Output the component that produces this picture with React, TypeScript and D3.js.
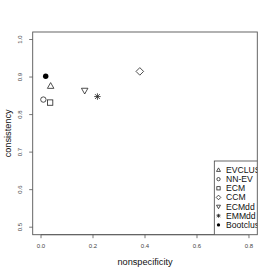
import React from "react";
import * as d3 from "d3";

const methods = ["EVCLUS", "NN-EV", "ECM", "CCM", "ECMdd", "EMMdd", "Bootclus"];
const shapes = ["triUp", "circle", "square", "diamond", "triDown", "asterisk", "dot"];
const nonspecificity = [0.037, 0.009, 0.035, 0.38, 0.168, 0.217, 0.018];
const consistency = [0.876, 0.84, 0.832, 0.915, 0.864, 0.848, 0.902];
const xTicks = [0.0, 0.2, 0.4, 0.6, 0.8];
const yTicks = [0.5, 0.6, 0.7, 0.8, 0.9, 1.0];

const W = 274, H = 274;
const L = 32.7, R = 257.3, T = 32, B = 234.7;
const FONT = "'Liberation Sans', Arial, Helvetica, sans-serif";

function Sym({ type, x, y, s, color = "#222" }: { type: string; x: number; y: number; s: number; color?: string }) {
  const sw = 0.8;
  switch (type) {
    case "circle":
      return <circle cx={x} cy={y} r={s * 0.75} fill="none" stroke={color} strokeWidth={sw} />;
    case "dot":
      return <circle cx={x} cy={y} r={s * 0.75} fill="#000" />;
    case "square":
      return <rect x={x - s * 0.75} y={y - s * 0.75} width={s * 1.5} height={s * 1.5} fill="none" stroke={color} strokeWidth={sw} />;
    case "triUp": {
      const h = s * 1.6, w = s * 1.8;
      return <path d={`M${x},${y - h * 0.6}L${x + w / 2},${y + h * 0.4}L${x - w / 2},${y + h * 0.4}Z`} fill="none" stroke={color} strokeWidth={sw} />;
    }
    case "triDown": {
      const h = s * 1.6, w = s * 1.8;
      return <path d={`M${x},${y + h * 0.6}L${x + w / 2},${y - h * 0.4}L${x - w / 2},${y - h * 0.4}Z`} fill="none" stroke={color} strokeWidth={sw} />;
    }
    case "diamond": {
      const r = s * 1.05;
      return <path d={`M${x},${y - r}L${x + r},${y}L${x},${y + r}L${x - r},${y}Z`} fill="none" stroke={color} strokeWidth={sw} />;
    }
    case "asterisk": {
      const r = s * 0.9;
      return (
        <path
          d={`M${x - r},${y}L${x + r},${y}M${x},${y - r}L${x},${y + r}M${x - r * 0.75},${y - r * 0.75}L${x + r * 0.75},${y + r * 0.75}M${x - r * 0.75},${y + r * 0.75}L${x + r * 0.75},${y - r * 0.75}`}
          fill="none"
          stroke={color}
          strokeWidth={sw}
        />
      );
    }
  }
  return null;
}

export default function App() {
  const x = d3.scaleLinear().domain([-0.032, 0.832]).range([L, R]);
  const y = d3.scaleLinear().domain([0.48, 1.02]).range([B, T]);
  const legX = 214.3, legTop = 161;
  const rowY0 = 170, rowDy = 9.15;
  return (
    <svg width={W} height={H} style={{ position: "absolute", left: 0, top: 0, background: "#fff" }} fontFamily={FONT}>
      <defs>
        <clipPath id="plotclip">
          <rect x={L} y={T} width={R - L} height={B - T} />
        </clipPath>
      </defs>
      <rect x={0} y={0} width={W} height={H} fill="#fff" />
      {/* x axis */}
      <line x1={x(xTicks[0])} x2={x(xTicks[xTicks.length - 1])} y1={B} y2={B} stroke="#555" strokeWidth={0.8} />
      {xTicks.map((t) => (
        <g key={"x" + t}>
          <line x1={x(t)} x2={x(t)} y1={B} y2={B + 3.5} stroke="#555" strokeWidth={0.8} />
          <text x={x(t)} y={247.5} fontSize={6} fill="#444" textAnchor="middle">
            {t.toFixed(1)}
          </text>
        </g>
      ))}
      {/* y axis */}
      {yTicks.map((t) => (
        <g key={"y" + t}>
          <line x1={L - 3.5} x2={L} y1={y(t)} y2={y(t)} stroke="#555" strokeWidth={0.8} />
          <text transform={`translate(22,${y(t)}) rotate(-90)`} fontSize={6} fill="#444" textAnchor="middle">
            {t.toFixed(1)}
          </text>
        </g>
      ))}
      <text transform={`translate(11,${(T + B) / 2}) rotate(-90)`} fontSize={9.2} fill="#111" textAnchor="middle">
        consistency
      </text>
      <text x={(L + R) / 2} y={264.5} fontSize={9.2} fill="#111" textAnchor="middle">
        nonspecificity
      </text>
      {/* points */}
      {methods.map((m, i) => (
        <Sym key={m} type={shapes[i]} x={x(nonspecificity[i])} y={y(consistency[i])} s={3.6} />
      ))}
      {/* legend */}
      <g clipPath="url(#plotclip)">
        <rect x={legX} y={legTop} width={60} height={B - legTop + 5} fill="#fff" stroke="#444" strokeWidth={0.8} />
        {methods.map((m, i) => (
          <g key={"l" + m}>
            <Sym type={shapes[i]} x={218.5} y={rowY0 + i * rowDy} s={2.2} />
            <text x={226} y={rowY0 + i * rowDy + 3} fontSize={8.6} fill="#111">
              {m}
            </text>
          </g>
        ))}
      </g>
      {/* box */}
      <rect x={L} y={T} width={R - L} height={B - T} fill="none" stroke="#555" strokeWidth={0.9} />
    </svg>
  );
}
